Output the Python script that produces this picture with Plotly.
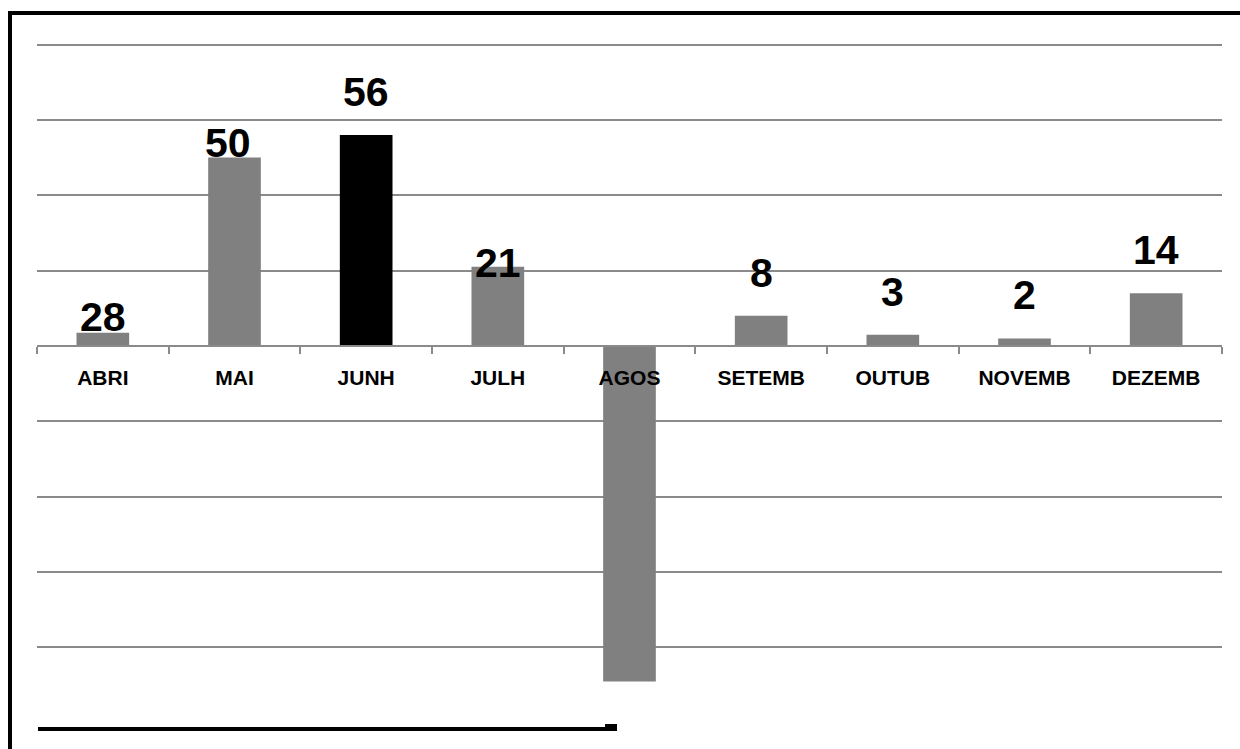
import plotly.graph_objects as go

# Monthly results (April - December)
months = ["ABRI", "MAI", "JUNH", "JULH", "AGOS", "SETEMB", "OUTUB", "NOVEMB", "DEZEMB"]
values = [3.5, 50, 56, 21, -89, 8, 3, 2, 14]
value_labels = ["28", "50", "56", "21", "", "8", "3", "2", "14"]
highlight_month = "JUNH"

# Canvas / plot-area geometry
W, H = 1240, 749
M_L, M_R, M_T, M_B = 37, 18, 37, 45
Y_MIN, Y_MAX = -95, 82
FONT = "Liberation Sans, Arial, sans-serif"
GRID = "#8a8a8a"

# Vertical gap (px) between a bar's top and its label's baseline
label_lift = {"ABRI": 1, "MAI": 0, "JULH": -11}
label_dx = {"MAI": -7}


def px_to_paper_x(px):
    return (px - M_L) / (W - M_L - M_R)


def px_to_paper_y(py):
    return (H - M_B - py) / (H - M_T - M_B)


bar_colors = ["#000000" if m == highlight_month else "#808080" for m in months]

fig = go.Figure(
    go.Bar(
        x=months,
        y=values,
        marker=dict(color=bar_colors, line=dict(width=0)),
        hoverinfo="skip",
    )
)

for m, v, t in zip(months, values, value_labels):
    if not t:
        continue
    lift = label_lift.get(m, 28)
    fig.add_annotation(
        x=m, y=max(v, 0), text=f"<b>{t}</b>", showarrow=False,
        xanchor="center", yanchor="bottom",
        yshift=lift - 10, xshift=label_dx.get(m, 0),
        font=dict(family=FONT, size=41, color="#000000"),
    )

# Outer chart frame (only its top and left edges fall inside the canvas)
fig.add_shape(
    type="rect", xref="paper", yref="paper",
    x0=px_to_paper_x(10), x1=px_to_paper_x(W + 40),
    y0=px_to_paper_y(H + 40), y1=px_to_paper_y(13),
    line=dict(color="#000000", width=4), fillcolor="rgba(0,0,0,0)", layer="above",
)
# Black rule along the lower edge
fig.add_shape(
    type="line", xref="paper", yref="paper",
    x0=px_to_paper_x(38), x1=px_to_paper_x(606),
    y0=px_to_paper_y(729), y1=px_to_paper_y(729),
    line=dict(color="#000000", width=4),
)
fig.add_shape(
    type="rect", xref="paper", yref="paper",
    x0=px_to_paper_x(605), x1=px_to_paper_x(617),
    y0=px_to_paper_y(731), y1=px_to_paper_y(724),
    line=dict(width=0), fillcolor="#000000",
)

zero_pos = (0 - Y_MIN) / (Y_MAX - Y_MIN)

fig.update_layout(
    width=W, height=H,
    margin=dict(l=M_L, r=M_R, t=M_T, b=M_B, pad=0),
    paper_bgcolor="#ffffff", plot_bgcolor="#ffffff",
    bargap=0.6, showlegend=False,
    font=dict(family=FONT, color="#000000"),
    xaxis=dict(
        type="category", anchor="free", position=zero_pos,
        showline=True, linecolor=GRID, linewidth=2,
        ticks="outside", tickson="boundaries", ticklen=7, tickwidth=1.5, tickcolor=GRID,
        showgrid=False, ticklabelstandoff=13,
        tickfont=dict(family=FONT, size=21, color="#000000", weight="bold"),
        fixedrange=True,
    ),
    yaxis=dict(
        range=[Y_MIN, Y_MAX], dtick=20, tick0=0,
        showgrid=True, gridcolor=GRID, gridwidth=2,
        zeroline=True, zerolinecolor=GRID, zerolinewidth=2,
        showticklabels=False, ticks="", showline=False,
        fixedrange=True,
    ),
)

fig.write_html("out.html")
